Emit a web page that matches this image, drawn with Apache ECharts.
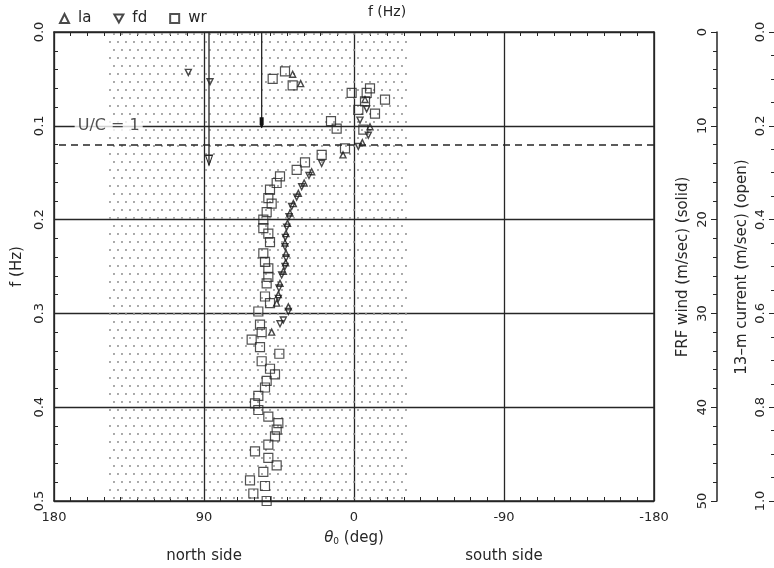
<!DOCTYPE html>
<html><head><meta charset="utf-8">
<script src="https://cdn.jsdelivr.net/npm/echarts@6/dist/echarts.min.js"></script>
<style>html,body{margin:0;padding:0;background:#fff}#c{width:774px;height:568px}</style>
</head><body><div id="c"></div>
<script>
// ---- data (theta_0 in deg, f in Hz) ----
const laData = [
  [36.8,0.045],[32.0,0.055],[-6.6,0.072],[-9.6,0.101],[-5.0,0.118],
  [6.6,0.131],[25.4,0.149],[29.9,0.161],[33.4,0.172],[36.4,0.183],[38.4,0.193],
  [39.9,0.204],[40.8,0.215],[41.4,0.225],[40.8,0.236],[41.0,0.246],[42.4,0.255],
  [44.4,0.268],[45.4,0.280],[46.4,0.289],[39.4,0.293],[49.4,0.320]
];
const fdData = [
  [99.4,0.043],[86.4,0.053],[-7.6,0.082],[-3.6,0.094],[-8.6,0.110],[-2.6,0.122],
  [19.4,0.140],[27.0,0.153],[31.4,0.165],[34.4,0.176],[37.4,0.186],[39.0,0.197],
  [40.4,0.208],[41.2,0.219],[41.4,0.229],[40.8,0.241],[41.4,0.250],[43.4,0.259],
  [45.0,0.273],[45.4,0.284],[39.4,0.298],[42.4,0.307],[44.4,0.311]
];
const wrData = [
  [48.8,0.050],[41.4,0.042],[36.8,0.057],[1.4,0.065],[-7.6,0.065],[-9.6,0.060],
  [-18.6,0.072],[-6.6,0.074],[-2.6,0.083],[-12.6,0.087],[13.8,0.095],[10.4,0.103],
  [-5.6,0.104],[5.4,0.124],[19.4,0.131],
  [29.4,0.139],[34.4,0.147],[44.4,0.154],[46.4,0.161],[50.4,0.168],[51.4,0.177],
  [49.4,0.183],[52.4,0.192],[54.4,0.200],[54.4,0.209],[51.4,0.215],[50.4,0.224],
  [54.4,0.236],[53.4,0.245],[51.4,0.252],[51.4,0.261],[52.4,0.268],[53.4,0.282],
  [50.4,0.289],[57.4,0.298],[56.4,0.312],[55.4,0.320],[61.4,0.328],[56.4,0.336],
  [44.8,0.343],[55.4,0.351],[50.4,0.359],[47.4,0.365],[52.4,0.372],[53.4,0.379],
  [57.4,0.388],[59.4,0.396],[57.4,0.403],[51.4,0.410],[45.4,0.417],[46.4,0.424],
  [47.4,0.431],[51.4,0.440],[59.4,0.447],[51.4,0.454],[46.4,0.462],[54.4,0.469],
  [62.4,0.478],[53.4,0.484],[60.4,0.492],[52.4,0.500]
];
const shoreSector = [147, -33];      // stippled north-side sector (deg)
const ucLabelAt = [170, 0.1];        // U/C = 1 label on the 0.1 Hz line
const dashedLevel = 0.117;
const windDir = 55.4, windSpeed = 10.2;        // m/s
const currentDir = 87, currentSpeed = 0.284;   // m/s
const sideNames = {'90': 'north side', '-90': 'south side'};
const windAxisName = 'FRF wind (m/sec) (solid)';
const currentAxisName = '13–m current (m/sec) (open)';

// ---- stipple pattern ----
const pc = document.createElement('canvas'); pc.width = 8; pc.height = 16;
const g = pc.getContext('2d'); g.fillStyle = '#959595';
[[2,2],[6,10]].forEach(p => { g.beginPath(); g.arc(p[0], p[1], 1.05, 0, Math.PI*2); g.fill(); });

const INK = '#262626';
const FONT = 'DejaVu Sans';
const chart = echarts.init(document.getElementById('c'));
const hollow = {color: 'rgba(0,0,0,0)', borderColor: INK, borderWidth: 1.2};
const trail = {color: 'rgba(0,0,0,0)', borderColor: '#1a1a1a', borderWidth: 1.4};
const line = {onZero: false, lineStyle: {color: INK, width: 1.5}};

chart.setOption({
  animation: false,
  textStyle: {fontFamily: FONT, color: INK},
  title: {text: 'f (Hz)', left: 'center', top: 0, textStyle: {fontSize: 14, fontWeight: 'normal', color: INK, fontFamily: FONT}},
  legend: {
    data: ['la', 'fd', 'wr'], left: 54, top: 6, itemWidth: 9, itemHeight: 9, itemGap: 22,
    textStyle: {fontSize: 15, color: INK, fontFamily: FONT, padding: [0, 0, 0, 4]}
  },
  graphic: [
    {type: 'text', x: 683, y: 267, rotation: Math.PI / 2, silent: true,
     style: {text: windAxisName, fontSize: 15, fontFamily: FONT, fill: INK, align: 'center', verticalAlign: 'middle'}},
    {type: 'text', x: 742, y: 267, rotation: Math.PI / 2, silent: true,
     style: {text: currentAxisName, fontSize: 15, fontFamily: FONT, fill: INK, align: 'center', verticalAlign: 'middle'}}
  ],
  grid: {left: 54, top: 32, width: 600, height: 469, outerBoundsMode: 'none', containLabel: false},
  xAxis: [
    {type: 'value', min: -180, max: 180, interval: 90, inverse: true, position: 'bottom',
     axisLine: line,
     axisTick: {inside: true, length: 5, lineStyle: {color: INK}},
     minorTick: {show: true, splitNumber: 9, length: 4, lineStyle: {color: INK}},
     splitLine: {show: true, lineStyle: {color: INK, width: 1.3}},
     axisLabel: {fontSize: 13, margin: 10, color: INK, formatter: v => String(v)},
     name: '{t|θ}{s|0} (deg)', nameLocation: 'middle', nameGap: 30,
     nameTextStyle: {fontSize: 15, color: INK, rich: {t: {fontSize: 15, fontStyle: 'italic'}, s: {fontSize: 9, verticalAlign: 'bottom', lineHeight: 8, padding: [8,0,0,0]}}}},
    {type: 'value', min: -180, max: 180, interval: 90, inverse: true, position: 'top',
     axisLine: line,
     axisTick: {inside: true, length: 5, lineStyle: {color: INK}},
     minorTick: {show: true, splitNumber: 9, length: 4, lineStyle: {color: INK}},
     splitLine: {show: false}, axisLabel: {show: false}},
    {type: 'value', min: -180, max: 180, interval: 90, inverse: true, position: 'bottom', offset: 40,
     axisLine: {show: false, onZero: false}, axisTick: {show: false}, splitLine: {show: false},
     axisLabel: {fontSize: 15, color: INK, formatter: v => sideNames[String(v)] || ''}}
  ],
  yAxis: [
    {type: 'value', min: 0, max: 0.5, interval: 0.1, inverse: true, position: 'left',
     axisLine: line,
     axisTick: {inside: true, length: 5, lineStyle: {color: INK}},
     minorTick: {show: true, splitNumber: 5, length: 4, lineStyle: {color: INK}},
     splitLine: {show: true, lineStyle: {color: INK, width: 1.3}},
     axisLabel: {rotate: 90, fontSize: 13, margin: 8, color: INK, formatter: v => v.toFixed(1)},
     name: 'f (Hz)', nameLocation: 'middle', nameRotate: 90, nameGap: 22,
     nameTextStyle: {fontSize: 15, color: INK}},
    {type: 'value', min: 0, max: 50, interval: 10, inverse: true, position: 'right', offset: 63,
     axisLine: line,
     axisTick: {inside: true, length: 6, lineStyle: {color: INK}},
     minorTick: {show: true, splitNumber: 5, length: 4, lineStyle: {color: INK}},
     splitLine: {show: false},
     axisLabel: {inside: true, rotate: 90, fontSize: 13, margin: 8, color: INK}},
    {type: 'value', min: 0, max: 1, interval: 0.2, inverse: true, position: 'right', offset: 121,
     axisLine: line,
     axisTick: {inside: true, length: 6, lineStyle: {color: INK}},
     minorTick: {show: true, splitNumber: 4, length: 4, lineStyle: {color: INK}},
     splitLine: {show: false},
     axisLabel: {inside: true, rotate: 90, fontSize: 13, margin: 8, color: INK, formatter: v => v.toFixed(1)}},
    {type: 'value', min: 0, max: 0.5, interval: 0.1, inverse: true, position: 'right', offset: 0,
     axisLine: line, axisTick: {show: false},
     splitLine: {show: false}, axisLabel: {show: false}}
  ],
  series: [
    {name: 'shore', type: 'scatter', data: [], silent: true,
     markArea: {silent: true, itemStyle: {color: {image: pc, repeat: 'repeat'}},
                data: [[{xAxis: shoreSector[0]}, {xAxis: shoreSector[1]}]]},
     markLine: {silent: true, symbol: 'none', label: {show: false},
                lineStyle: {type: [7, 5], color: INK, width: 1.5},
                data: [{yAxis: dashedLevel}]}},
    {name: 'uc', type: 'scatter', data: [ucLabelAt], symbolSize: 0, silent: true,
     label: {show: true, position: 'right', distance: 4, formatter: () => 'U/C = 1',
             fontSize: 16, color: INK, backgroundColor: '#fff', padding: [0, 3]}},
    {name: 'wr', type: 'scatter', data: wrData, symbol: 'rect', symbolSize: 9, itemStyle: hollow},
    {name: 'la', type: 'scatter', data: laData, symbol: 'triangle', symbolSize: 6, itemStyle: trail},
    {name: 'fd', type: 'scatter', data: fdData, symbol: 'path://M0,0L10,0L5,9Z', symbolSize: [6, 6], itemStyle: trail},
    {name: 'wind', type: 'line', yAxisIndex: 1, silent: true,
     lineStyle: {color: INK, width: 1.3}, itemStyle: {color: '#111'},
     data: [{value: [windDir, 0], symbol: 'none'},
            {value: [windDir, windSpeed], symbol: 'path://M0,0L4,0L4,8L2,12L0,8Z', symbolSize: [4, 11], symbolOffset: [0, '-45%']}]},
    {name: 'current', type: 'line', yAxisIndex: 2, silent: true,
     lineStyle: {color: INK, width: 1.3},
     data: [{value: [currentDir, 0], symbol: 'none'},
            {value: [currentDir, currentSpeed], symbol: 'path://M0,0L10,0L5,13Z', symbolSize: [7, 10], symbolOffset: [0, '-50%'],
             itemStyle: {color: 'rgba(0,0,0,0)', borderColor: INK, borderWidth: 1.2}}]}
  ]
});
</script></body></html>
